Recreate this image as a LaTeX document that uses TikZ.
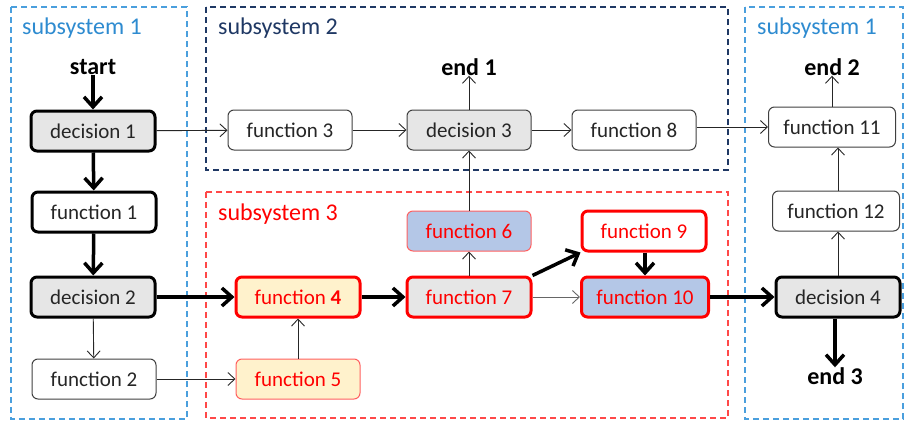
\documentclass[tikz,border=0pt]{standalone}
\usepackage{fontspec}
\setmainfont{Carlito}
\usetikzlibrary{arrows.meta}
\definecolor{txt}{HTML}{262626}
\definecolor{bd}{HTML}{404040}
\definecolor{subA}{HTML}{2E8BD0}
\definecolor{subAline}{HTML}{4A9FDD}
\definecolor{subB}{HTML}{1F3864}
\definecolor{subC}{HTML}{FF1A1A}
\definecolor{grayfill}{HTML}{E6E6E6}
\definecolor{yelfill}{HTML}{FFF2CC}
\definecolor{bluefill}{HTML}{B4C7E7}
\definecolor{lightred}{HTML}{FF6060}
\begin{document}
\begin{tikzpicture}[x=1pt,y=-1pt,
  box/.style={draw=bd, rounded corners=6pt, minimum width=124pt, minimum height=40pt,
    inner sep=0pt, font=\fontsize{21}{24}\selectfont, text=txt, line width=1pt, fill=white},
  heavy/.style={line width=3pt, draw=black},
  redheavy/.style={line width=3pt, draw=red, text=red},
  lbl/.style={font=\bfseries\fontsize{24}{28}\selectfont, text=black, inner sep=0pt},
  subbox/.style={dashed, dash pattern=on 6pt off 4pt, line width=1.1pt},
  sublbl/.style={anchor=west, font=\fontsize{24}{28}\selectfont, inner sep=0pt},
  thin/.style={line width=0.9pt, draw=txt, -{Straight Barb[length=7pt,width=13pt]}},
  thk/.style={line width=3.5pt, draw=black, -{Straight Barb[length=10pt,width=18pt]}}
]
\useasboundingbox (0,0) rectangle (906,423);
% subsystem frames
\draw[subbox, draw=subAline] (11,7) rectangle (187,419);
\draw[subbox, draw=subB] (206,7) rectangle (728,170);
\draw[subbox, draw=subC!80] (206,192) rectangle (728,418);
\draw[subbox, draw=subAline] (745,7) rectangle (903,419);
\node[sublbl, text=subA] (s1a) at (22,28) {subsystem 1};
\node[sublbl, text=subB] (s2) at (218,28) {subsystem 2};
\node[sublbl, text=red] (s3) at (218,214) {subsystem 3};
\node[sublbl, text=subA] (s1b) at (757,28) {subsystem 1};
% labels
\node[lbl] (start) at (93,67) {start};
\node[lbl] (end1) at (469,67) {end 1};
\node[lbl] (end2) at (832,67) {end 2};
\node[lbl] (end3) at (835,376) {end 3};
% nodes
\node[box, heavy, fill=grayfill] (d1) at (93,131) {decision 1};
\node[box, heavy] (f1) at (94,212) {function 1};
\node[box, heavy, fill=grayfill] (d2) at (93,297) {decision 2};
\node[box] (f2) at (94,379) {function 2};
\node[box] (f3) at (290,130) {function 3};
\node[box, fill=grayfill] (d3) at (469,130) {decision 3};
\node[box] (f8) at (634,130) {function 8};
\node[box, minimum width=127pt] (f11) at (832,127) {function 11};
\node[box, minimum width=127pt] (f12) at (836,211) {function 12};
\node[box, heavy, fill=grayfill] (d4) at (838,297) {decision 4};
\node[box, redheavy, fill=yelfill] (f4) at (298,297) {function \textbf{4}};
\node[box, draw=lightred, text=red, fill=yelfill] (f5) at (298,379) {function 5};
\node[box, draw=lightred, text=red, fill=bluefill] (f6) at (469,231) {function 6};
\node[box, redheavy, fill=grayfill] (f7) at (469,297) {function 7};
\node[box, redheavy] (f9) at (644,231) {function 9};
\node[box, redheavy, fill=bluefill, minimum width=127pt] (f10) at (645,297) {function 10};
% connectors
\draw[thk] (start) -- (d1);
\draw[thk] (d1) -- (f1);
\draw[thk] (f1) -- (d2);
\draw[thin] (d2) -- (f2);
\draw[thin] (d1) -- (f3);
\draw[thin] (f3) -- (d3);
\draw[thin] (d3) -- (end1);
\draw[thin] (d3) -- (f8);
\draw[thin] (f8.east |- f11.west) -- (f11.west);
\draw[thin] (f11.north) -- (end2.south -| f11.north);
\draw[thin] (f12.north -| d4.north) -- (f11.south -| d4.north);
\draw[thin] (d4.north) -- (f12.south -| d4.north);
\draw[thk] (d4.south -| end3.north) -- (end3.north);
\draw[thk] (d2) -- (f4);
\draw[thin] (f2) -- (f5);
\draw[thin] (f5) -- (f4);
\draw[thk] (f4) -- (f7);
\draw[thin] (f7) -- (f6);
\draw[thin] (f6) -- (d3);
\draw[thk] (f7.north east) -- (f9.south west);
\draw[thin, draw=bd!80] (f7) -- (f10);
\draw[thk] (f9.south -| f10.north) -- (f10.north);
\draw[thk] (f10) -- (d4);
\end{tikzpicture}
\end{document}
